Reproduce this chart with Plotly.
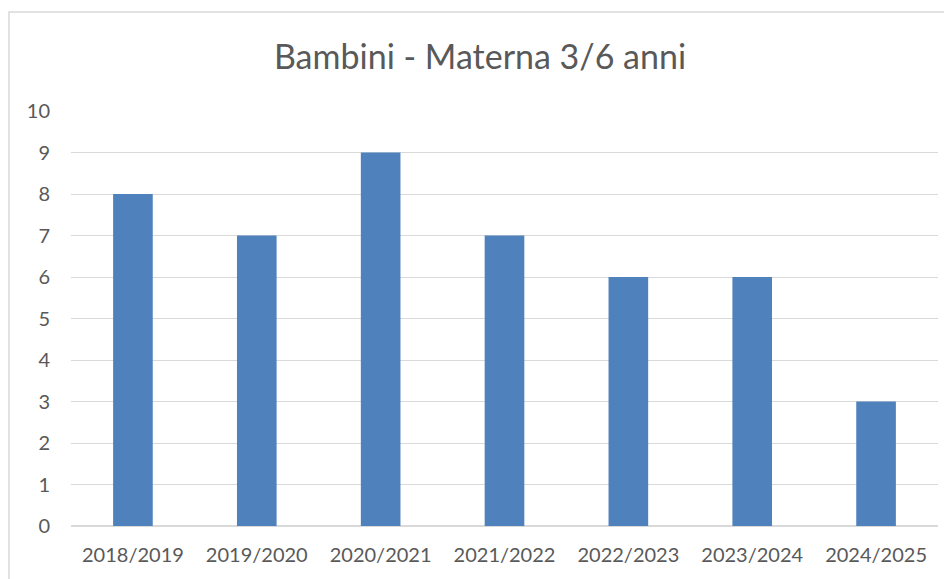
import plotly.graph_objects as go

anni = ['2018/2019', '2019/2020', '2020/2021', '2021/2022', '2022/2023', '2023/2024', '2024/2025']
bambini = [8, 7, 9, 7, 6, 6, 3]
tick_y = list(range(0, 11))

# la pagina html ha un margine di 8px sul body
W, H = 944, 571
L, R, T, B = 63, 14, 103, 53
pw, ph = W - L - R, H - T - B

fig = go.Figure()
fig.add_trace(go.Bar(x=anni, y=bambini, marker_color='#4F81BD', marker_line_width=0))

fig.update_layout(
    width=W, height=H,
    margin=dict(l=L, r=R, t=T, b=B),
    paper_bgcolor='white', plot_bgcolor='white',
    bargap=0.68,
    showlegend=False,
    font=dict(family='Lato', color='#595959'),
    title=dict(text='Bambini - Materna 3/6 anni', x=0.5, xanchor='center',
               y=1 - 49 / H, yanchor='middle',
               font=dict(size=34, color='#595959', family='Lato')),
    xaxis=dict(showgrid=False, showline=False, ticks='', tickfont=dict(size=20),
               ticklabelstandoff=15),
    yaxis=dict(range=[0, 10], tickvals=tick_y, showgrid=True, gridcolor='#D9D9D9',
               gridwidth=1, zeroline=True, zerolinecolor='#D9D9D9', zerolinewidth=1.5,
               ticks='', tickfont=dict(size=20), ticklabelstandoff=20, fixedrange=True),
)

# bordo del grafico
fig.add_shape(type='rect', xref='paper', yref='paper',
              x0=(1 - L) / pw, x1=(W + 10 - L) / pw,
              y0=-(B + 10) / ph, y1=1 + (T - 4) / ph,
              line=dict(color='#D9D9D9', width=1.5), layer='below')

fig.write_html('out.html')
